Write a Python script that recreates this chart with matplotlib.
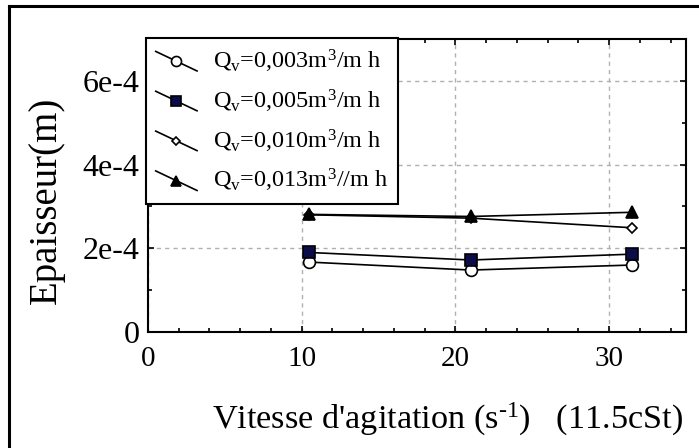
import matplotlib
matplotlib.use("Agg")
import matplotlib.pyplot as plt
from matplotlib.lines import Line2D
from matplotlib.legend_handler import HandlerLine2D
from matplotlib.ticker import MultipleLocator, FixedLocator, FixedFormatter

plt.rcParams["font.family"] = ["Liberation Serif", "DejaVu Serif"]
plt.rcParams["mathtext.fontset"] = "custom"
plt.rcParams["mathtext.rm"] = "Liberation Serif"
plt.rcParams["mathtext.it"] = "Liberation Serif:italic"

# vitesse d'agitation (s-1)
vitesse = [10.5, 21.0, 31.5]

# epaisseur (m) pour chaque debit
ep_003 = [1.67e-4, 1.48e-4, 1.60e-4]
ep_005 = [1.90e-4, 1.72e-4, 1.86e-4]
ep_010 = [2.80e-4, 2.72e-4, 2.49e-4]
ep_013 = [2.81e-4, 2.76e-4, 2.86e-4]

labels = [r"Q$_\mathrm{v}$=0,003m$^3$/m h",
          r"Q$_\mathrm{v}$=0,005m$^3$/m h",
          r"Q$_\mathrm{v}$=0,010m$^3$/m h",
          r"Q$_\mathrm{v}$=0,013m$^3$//m h"]

y_ticks = [0, 2e-4, 4e-4, 6e-4]
y_tick_labels = ["0", "2e-4", "4e-4", "6e-4"]


class DiagonalHandler(HandlerLine2D):
    """trait en diagonale avec le symbole au milieu"""
    def create_artists(self, legend, orig_handle, xdescent, ydescent,
                       width, height, fontsize, trans):
        x0, x1 = -xdescent, -xdescent + width
        y0, y1 = -ydescent + height * 1.0, -ydescent - height * 0.15
        line = Line2D([x0, x1], [y0, y1], color="black", lw=1.2)
        mark = Line2D([(x0 + x1) / 2], [(y0 + y1) / 2],
                      marker=orig_handle.get_marker(),
                      markersize=orig_handle.get_markersize() * 0.85,
                      markerfacecolor=orig_handle.get_markerfacecolor(),
                      markeredgecolor="black", markeredgewidth=1.2,
                      linestyle="none")
        line.set_transform(trans)
        mark.set_transform(trans)
        return [line, mark]


fig = plt.figure(figsize=(6.99, 4.48), dpi=100)
ax = fig.add_axes([148 / 699, 1 - 332 / 448, (686 - 148) / 699, (332 - 39) / 448])

styles = [
    dict(marker="o", markersize=8.5, markerfacecolor="white"),
    dict(marker="s", markersize=9, markerfacecolor="#0c0c4a"),
    dict(marker="D", markersize=5, markerfacecolor="white"),
    dict(marker="^", markersize=8.5, markerfacecolor="black"),
]
series = [ep_003, ep_005, ep_010, ep_013]

handles = []
for ys, st, lab in zip(series, styles, labels):
    h, = ax.plot(vitesse, ys, color="black", lw=1.2, markeredgecolor="black",
                 markeredgewidth=1.2, label=lab, **st)
    handles.append(h)

ax.set_xlim(0, 35)
ax.set_ylim(0, 7e-4)
ax.xaxis.set_major_locator(MultipleLocator(10))
ax.xaxis.set_minor_locator(MultipleLocator(2))
ax.yaxis.set_major_locator(FixedLocator(y_ticks))
ax.yaxis.set_major_formatter(FixedFormatter(y_tick_labels))
ax.yaxis.set_minor_locator(MultipleLocator(1e-4))
ax.tick_params(which="both", direction="in", top=True, right=True, width=1.2)
ax.tick_params(which="major", length=4)
ax.tick_params(axis="x", which="major", pad=10, labelsize=21)
ax.tick_params(axis="y", which="major", pad=6, labelsize=23)
ax.tick_params(which="minor", length=3)
for s in ax.spines.values():
    s.set_linewidth(1.5)
ax.grid(True, which="major", linestyle=(0, (3, 3)), color="#b0b0b0", lw=1)

ax.set_xlabel(r"Vitesse d'agitation (s$^{\text{-1}}$)   (11.5cSt)", fontsize=24.7)
ax.xaxis.set_label_coords((447 - 148) / 538, -(419 - 332) / 293)
ax.xaxis.label.set_va("center")
ax.set_ylabel("Epaisseur(m)", fontsize=28)
ax.yaxis.set_label_coords((46 - 148) / 538, (332 - 200) / 293)
ax.yaxis.label.set_va("center")

leg = ax.legend(handles=handles, labels=labels,
                handler_map={Line2D: DiagonalHandler()},
                loc="upper left", bbox_to_anchor=(146 / 699, 1 - 38 / 448),
                bbox_transform=fig.transFigure, borderaxespad=0,
                fontsize=17.5, handlelength=1.7, handletextpad=0.65,
                labelspacing=0.52, borderpad=0.4, fancybox=False,
                framealpha=1, edgecolor="black")
leg.get_frame().set_linewidth(1.5)

# cadre exterieur (bords gauche et haut)
fig.add_artist(Line2D([9 / 699, 9 / 699], [0, 1 - 6 / 448], color="black",
                      lw=2.2, transform=fig.transFigure))
fig.add_artist(Line2D([9 / 699, 1], [1 - 6 / 448, 1 - 6 / 448], color="black",
                      lw=2.2, transform=fig.transFigure))

fig.savefig("out.png", dpi=100)
